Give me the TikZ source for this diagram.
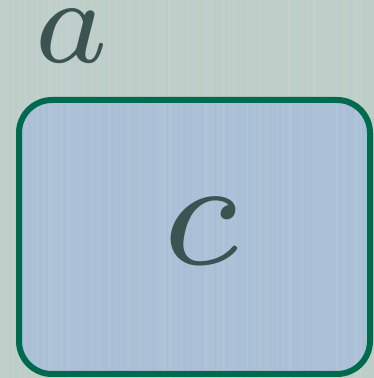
\RequirePackage{fix-cm}
\documentclass[tikz,border=0pt]{standalone}
\usepackage{graphicx}
\usepackage{tikz}
\usetikzlibrary{positioning}

\definecolor{bgGrey}{HTML}{BDCDC8}
\definecolor{boxBlue}{HTML}{A9BFD6}
\definecolor{boxLine}{HTML}{006A4E}
\definecolor{letterInk}{HTML}{3B5452}

\begin{document}
\begin{tikzpicture}[
  x=1pt, y=1pt,
  letter/.style={inner sep=0pt, text=letterInk},
  panel/.style={line width=6pt, rounded corners=33pt,
    minimum width=351pt, minimum height=274pt, inner sep=0pt},
  streak/.style={fill=white}
]
  % backdrop
  \fill[bgGrey] (0,0) rectangle (374,378);
  \useasboundingbox (0,0) rectangle (374,378);

  \node[panel, fill=boxBlue] (box) at (194.5,141) {};

  % faint vertical streaks
  \pgfmathsetseed{11}
  \foreach \i in {0,...,61} {
    \pgfmathsetmacro\wide{2+4*rnd}
    \pgfmathsetmacro\fade{0.02+0.06*rnd}
    \fill[streak, opacity=\fade] (\i*6,0) rectangle ++(\wide,378);
  }
  \node[panel, draw=boxLine] (boxRim) at (box.center) {};

  \node[letter] (setC) at (200.5,147) {\scalebox{22}{$\scriptstyle c$}};
  \node[letter] (setA) at (71.5,341.5) {\scalebox{17.5}{$\scriptstyle a$}};
\end{tikzpicture}
\end{document}
